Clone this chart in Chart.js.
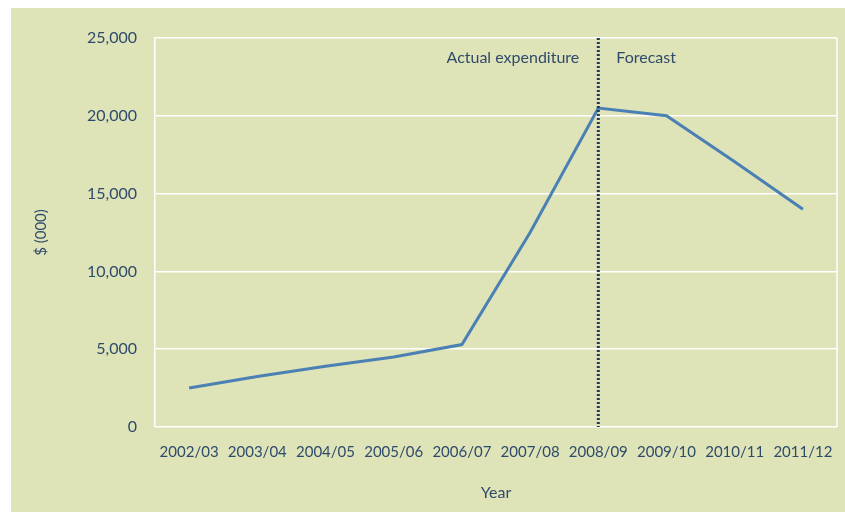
<!DOCTYPE html>
<html>
<head>
<meta charset="utf-8">
<script src="https://cdn.jsdelivr.net/npm/chart.js@4.4.1/dist/chart.umd.min.js"></script>
<style>
  html, body { margin: 0; padding: 0; background: #ffffff; }
  #wrap { width: 845px; height: 512px; }
</style>
</head>
<body>
<div id="wrap"><canvas id="expChart" width="845" height="512"></canvas></div>
<script>
// Expenditure data, $ (000)
const years = ['2002/03', '2003/04', '2004/05', '2005/06', '2006/07', '2007/08', '2008/09', '2009/10', '2010/11', '2011/12'];
const spend = [2500, 3250, 3900, 4500, 5300, 12500, 20500, 20000, 17050, 14000];
const yTicks = [0, 5000, 10000, 15000, 20000, 25000];
const splitYear = '2008/09';
const leftNote = 'Actual expenditure';
const rightNote = 'Forecast';

const inkColor = '#2f4b6b';
const bgColor = '#dee3b8';

// Green panel behind the chart
const panelBg = {
  id: 'panelBg',
  beforeDraw(chart) {
    const ctx = chart.ctx;
    ctx.save();
    ctx.fillStyle = bgColor;
    ctx.fillRect(11, 8, chart.width - 11, chart.height - 8);
    ctx.restore();
  }
};

// Right border of plot + dotted split line with notes
const splitLine = {
  id: 'splitLine',
  beforeDatasetsDraw(chart) {
    const { ctx, chartArea } = chart;
    ctx.save();
    ctx.strokeStyle = '#ffffff';
    ctx.lineWidth = 1.5;
    ctx.beginPath();
    ctx.moveTo(chartArea.right, chartArea.top);
    ctx.lineTo(chartArea.right, chartArea.bottom);
    ctx.stroke();
    ctx.restore();
  },
  afterDatasetsDraw(chart) {
    const { ctx, chartArea, scales } = chart;
    const x = scales.x.getPixelForValue(years.indexOf(splitYear));
    ctx.save();
    ctx.strokeStyle = '#1d3a5e';
    ctx.lineWidth = 3;
    ctx.setLineDash([2, 2]);
    ctx.beginPath();
    ctx.moveTo(x, chartArea.top);
    ctx.lineTo(x, chartArea.bottom);
    ctx.stroke();
    ctx.setLineDash([]);
    ctx.fillStyle = inkColor;
    ctx.font = '16px Lato';
    ctx.textBaseline = 'middle';
    ctx.textAlign = 'right';
    ctx.fillText(leftNote, x - 19, chartArea.top + 20);
    ctx.textAlign = 'left';
    ctx.fillText(rightNote, x + 18, chartArea.top + 20);
    ctx.restore();
  }
};

new Chart(document.getElementById('expChart'), {
  type: 'line',
  data: {
    labels: years,
    datasets: [{
      data: spend,
      borderColor: '#4a80b4',
      borderWidth: 3,
      pointRadius: 0,
      tension: 0,
      fill: false
    }]
  },
  options: {
    responsive: false,
    animation: false,
    layout: { padding: { top: 38, right: 8, left: 0, bottom: 6 } },
    plugins: {
      legend: { display: false },
      tooltip: { enabled: false }
    },
    scales: {
      x: {
        offset: true,
        grid: { display: false },
        border: { display: false },
        ticks: { color: inkColor, font: { family: 'Lato', size: 15 }, padding: 8, maxRotation: 0, autoSkip: false },
        title: { display: true, text: 'Year', color: inkColor, font: { family: 'Lato', size: 16 }, padding: { top: 16 } },
        afterFit(scale) { scale.height = 79; }
      },
      y: {
        min: 0,
        max: 25000,
        afterBuildTicks(scale) { scale.ticks = yTicks.map(v => ({ value: v })); },
        grid: { color: '#ffffff', lineWidth: 1.5, drawTicks: false },
        border: { display: true, color: '#ffffff', width: 1.5 },
        ticks: {
          color: inkColor,
          font: { family: 'Lato', size: 16 },
          padding: 18,
          callback: v => v.toLocaleString('en-US')
        },
        title: { display: true, text: '$ (000)', color: inkColor, font: { family: 'Lato', size: 15 }, padding: { top: 32, bottom: 0 } },
        afterFit(scale) { scale.width = 155; }
      }
    }
  },
  plugins: [panelBg, splitLine]
});
</script>
</body>
</html>
